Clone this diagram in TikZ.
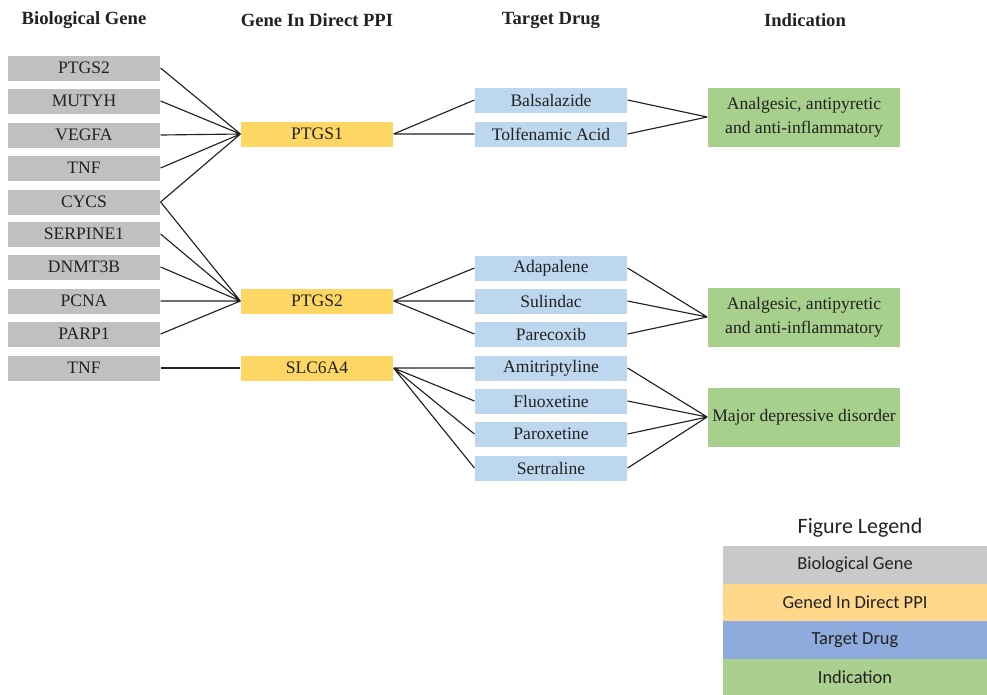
\documentclass[tikz,border=0pt]{standalone}
\usepackage{fontspec}
\setmainfont{Liberation Serif}
\newfontfamily\legendfont{Carlito}
\usepackage{tikz}
\usetikzlibrary{positioning}
\definecolor{genegray}{HTML}{C0C0C0}
\definecolor{ppiyellow}{HTML}{FDD663}
\definecolor{drugblue}{HTML}{BDD7EE}
\definecolor{indgreen}{HTML}{A6D08C}
\definecolor{leggray}{HTML}{C9C9C9}
\definecolor{legyellow}{HTML}{FFD88C}
\definecolor{legblue}{HTML}{8FAADC}
\definecolor{leggreen}{HTML}{A9D08E}
\definecolor{ink}{HTML}{222222}
\tikzset{
  box/.style={inner sep=0pt, minimum width=3.05cm, minimum height=0.5cm, text=ink, align=center,
    font=\rmfamily\fontsize{10}{13.6}\selectfont},
  gene/.style={box, fill=genegray},
  ppi/.style={box, fill=ppiyellow},
  drug/.style={box, fill=drugblue},
  ind/.style={box, fill=indgreen, minimum width=3.86cm, minimum height=1.18cm},
  head/.style={font=\rmfamily\bfseries\fontsize{10.6}{12}\selectfont, text=ink},
  legrow/.style={inner sep=0pt, minimum width=5.28cm, minimum height=0.75cm, text=ink, font=\legendfont\fontsize{10.5}{12}\selectfont},
  link/.style={draw=ink, line width=0.65pt}
}

\begin{document}
\begin{tikzpicture}[x=0.02cm, y=-0.02cm]
  \useasboundingbox (0,0) rectangle (987,694);
  % column heads
  \node[head] (h1) at (84,20) {Biological Gene};
  \node[head] (h2) at (317,20) {Gene In Direct PPI};
  \node[head] (h3) at (551,20) {Target Drug};
  \node[head] (h4) at (805,20) {Indication};
  % biological genes
  \node[gene] (g1) at (84,68) {PTGS2};
  \node[gene] (g2) at (84,101) {MUTYH};
  \node[gene] (g3) at (84,135) {VEGFA};
  \node[gene] (g4) at (84,168) {TNF};
  \node[gene] (g5) at (84,202) {CYCS};
  \node[gene] (g6) at (84,234) {SERPINE1};
  \node[gene] (g7) at (84,267) {DNMT3B};
  \node[gene] (g8) at (84,301) {PCNA};
  \node[gene] (g9) at (84,334) {PARP1};
  \node[gene] (g10) at (84,368) {TNF};
  % genes in direct PPI
  \node[ppi] (p1) at (317,134) {PTGS1};
  \node[ppi] (p2) at (317,301) {PTGS2};
  \node[ppi] (p3) at (317,368) {SLC6A4};
  % target drugs
  \node[drug] (d1) at (551,100) {Balsalazide};
  \node[drug] (d2) at (551,134) {Tolfenamic Acid};
  \node[drug] (d3) at (551,268) {Adapalene};
  \node[drug] (d4) at (551,301) {Sulindac};
  \node[drug] (d5) at (551,334) {Parecoxib};
  \node[drug] (d6) at (551,368) {Amitriptyline};
  \node[drug] (d7) at (551,401) {Fluoxetine};
  \node[drug] (d8) at (551,434) {Paroxetine};
  \node[drug] (d9) at (551,468) {Sertraline};
  % indications
  \node[ind] (i1) at (804,117) {Analgesic, antipyretic\\and anti-inflammatory};
  \node[ind] (i2) at (804,317) {Analgesic, antipyretic\\and anti-inflammatory};
  \node[ind] (i3) at (804,417) {Major depressive disorder};
  % links
  \draw[link] (g1.east) -- (p1.west) (g2.east) -- (p1.west) (g3.east) -- (p1.west)
              (g4.east) -- (p1.west) (g5.east) -- (p1.west);
  \draw[link] (g5.east) -- (p2.west) (g6.east) -- (p2.west) (g7.east) -- (p2.west)
              (g8.east) -- (p2.west) (g9.east) -- (p2.west);
  \draw[link] (g10.east) -- (p3.west);
  \draw[link] (p1.east) -- (d1.west) (p1.east) -- (d2.west);
  \draw[link] (p2.east) -- (d3.west) (p2.east) -- (d4.west) (p2.east) -- (d5.west);
  \draw[link] (p3.east) -- (d6.west) (p3.east) -- (d7.west) (p3.east) -- (d8.west)
              (p3.east) -- (d9.west);
  \draw[link] (d1.east) -- (i1.west) (d2.east) -- (i1.west);
  \draw[link] (d3.east) -- (i2.west) (d4.east) -- (i2.west) (d5.east) -- (i2.west);
  \draw[link] (d6.east) -- (i3.west) (d7.east) -- (i3.west) (d8.east) -- (i3.west)
              (d9.east) -- (i3.west);
  % legend
  \node[text=ink, font=\legendfont\fontsize{12.5}{14}\selectfont] (lt) at (860,528) {Figure Legend};
  \node[legrow, fill=leggray] (l1) at (855,565) {Biological Gene};
  \node[legrow, fill=legyellow] (l2) at (855,602.5) {Gened In Direct PPI};
  \node[legrow, fill=legblue] (l3) at (855,640) {Target Drug};
  \node[legrow, fill=leggreen] (l4) at (855,677.5) {Indication};
\end{tikzpicture}
\end{document}
